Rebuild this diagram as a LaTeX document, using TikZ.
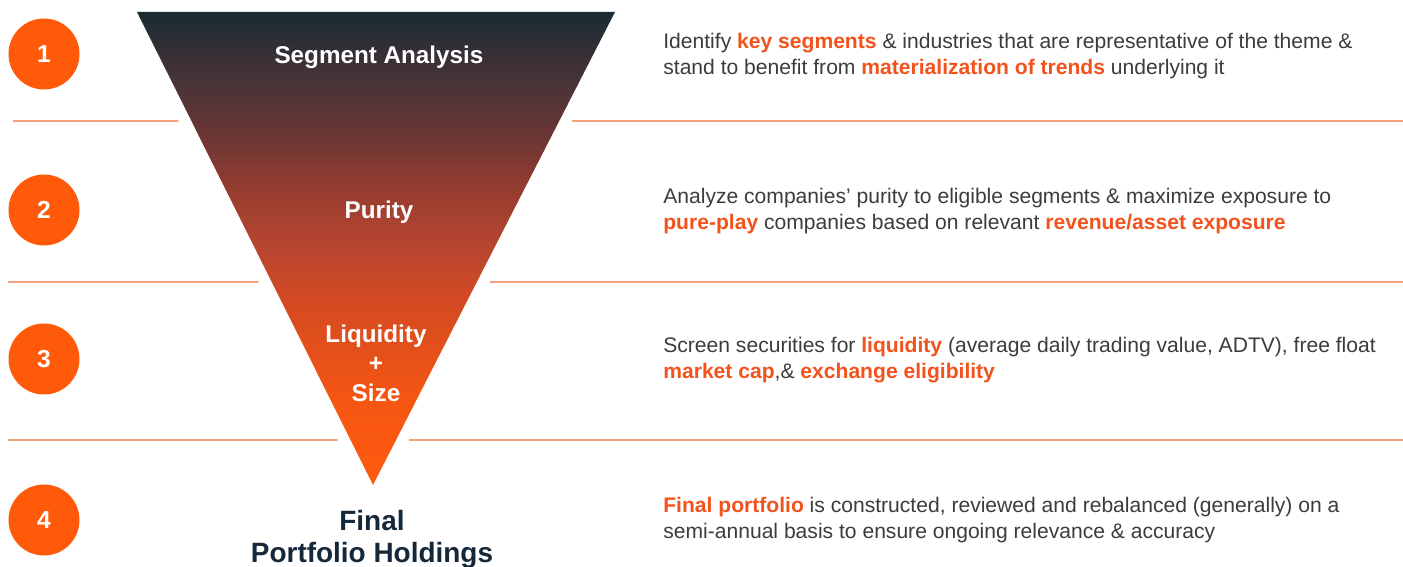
\documentclass[tikz,border=0pt]{standalone}
\usepackage{fontspec}
\setmainfont{Liberation Sans}
\usetikzlibrary{positioning,calc}

\definecolor{dotorange}{HTML}{FF5A0A}
\definecolor{keyorange}{HTML}{F2521C}
\definecolor{ruleorange}{HTML}{F5A07C}
\definecolor{bodygray}{HTML}{3C3C3C}
\definecolor{navy}{HTML}{15283A}

% funnel colours, dark at the top to bright orange at the tip
\definecolor{fun0}{RGB}{255,90,16}
\definecolor{fun1}{RGB}{245,86,18}
\definecolor{fun2}{RGB}{212,74,34}
\definecolor{fun3}{RGB}{184,69,48}
\definecolor{fun4}{RGB}{158,63,48}
\definecolor{fun5}{RGB}{110,54,51}
\definecolor{fun6}{RGB}{70,51,56}
\definecolor{fun7}{RGB}{28,43,51}
\pgfdeclareverticalshading{funnel}{100bp}{%
  color(0bp)=(fun0); color(25bp)=(fun0); color(34bp)=(fun1);
  color(44.5bp)=(fun2); color(50bp)=(fun3); color(55bp)=(fun4);
  color(61.5bp)=(fun5); color(68bp)=(fun6); color(75bp)=(fun7);
  color(100bp)=(fun7)}

% highlighted words in the notes
\newcommand{\keyword}[1]{\textbf{\color{keyorange}#1}}

\begin{document}
\begin{tikzpicture}[x=0.02cm, y=-0.02cm,
    stepdot/.style={circle, fill=dotorange, minimum size=71*0.02cm, inner sep=0pt,
      text=white, font=\fontsize{14}{16}\selectfont\bfseries},
    stagelabel/.style={text=white, align=center, inner sep=0pt,
      font=\fontsize{13.8}{16.7}\selectfont\bfseries},
    note/.style={anchor=west, align=left, inner sep=0pt, text=bodygray,
      font=\fontsize{12}{14.7}\selectfont},
    rule/.style={draw=ruleorange, line width=1.1pt}]
  \useasboundingbox (0,0) rectangle (1403,567);

  % funnel
  \coordinate (tl) at (137,12);
  \coordinate (tr) at (615,12);
  \coordinate (tip) at (373,485);
  \shade[shading=funnel] (tl) -- (tr) -- (tip) -- cycle;

  % separators, broken around the funnel
  \foreach \y/\x in {121/13, 282/8, 440/8} {
    \draw[rule] (\x,\y) -- ($(tl)!{(\y-12)/473}!(tip) + (-13,0)$);
    \draw[rule] ($(tr)!{(\y-12)/473}!(tip) + (13,0)$) -- (1403,\y);
  }

  % step numbers
  \node[stepdot] (num1) at (44,54)  {1};
  \node[stepdot] (num2) at (44,210) {2};
  \node[stepdot] (num3) at (44,359) {3};
  \node[stepdot] (num4) at (44,520) {4};

  % stage names inside the funnel
  \node[stagelabel] (segment) at (379,57)  {Segment Analysis};
  \node[stagelabel] (purity)  at (379,212) {Purity};
  \node[stagelabel] (liquidity) at (376,363) {Liquidity\\+\\Size};
  \node[align=center, inner sep=0pt, text=navy,
    font=\fontsize{15.9}{18.2}\selectfont\bfseries]
    (final) at (372,539) {Final\\Portfolio Holdings};

  % notes
  \node[note] (note1) at (663,56) {Identify \keyword{key segments} \& industries that are representative of the theme \&\\
    stand to benefit from \keyword{materialization of trends} underlying it};
  \node[note] (note2) at (663,211) {Analyze companies' purity to eligible segments \& maximize exposure to\\
    \keyword{pure-play} companies based on relevant \keyword{revenue/asset exposure}};
  \node[note] (note3) at (663,360) {Screen securities for \keyword{liquidity} (average daily trading value, ADTV), free float\\
    \keyword{market cap},\& \keyword{exchange eligibility}};
  \node[note] (note4) at (663,520) {\keyword{Final portfolio} is constructed, reviewed and rebalanced (generally) on a\\
    semi-annual basis to ensure ongoing relevance \& accuracy};
\end{tikzpicture}
\end{document}
